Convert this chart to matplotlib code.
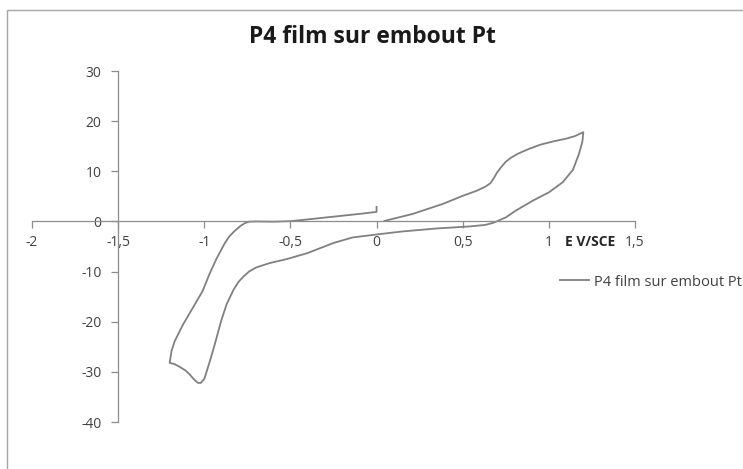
import matplotlib
matplotlib.use("Agg")
import matplotlib.pyplot as plt
from matplotlib.ticker import FuncFormatter
from matplotlib.patches import Rectangle

# Cyclic voltammogram of the P4 film on a Pt tip
E = [0.0, 0.0, -0.1, -0.25, -0.4, -0.5, -0.6, -0.7, -0.74, -0.765, -0.79,
     -0.824, -0.855, -0.882, -0.93, -0.97, -1.01, -1.066, -1.124, -1.172,
     -1.19, -1.201, -1.17, -1.143, -1.11, -1.085, -1.06, -1.037, -1.02,
     -1.0, -0.985, -0.96, -0.94, -0.90, -0.87, -0.83, -0.80, -0.77, -0.74,
     -0.70, -0.62, -0.52, -0.40, -0.25, -0.14, 0.0, 0.15, 0.35, 0.54, 0.63,
     0.675, 0.71, 0.75, 0.81, 0.91, 1.0, 1.08, 1.14, 1.175, 1.195, 1.2,
     1.15, 1.1, 1.03, 0.95, 0.88, 0.82, 0.78, 0.75, 0.725, 0.70, 0.68,
     0.66, 0.63, 0.58, 0.5, 0.385, 0.21, 0.046]
I = [2.9, 1.9, 1.5, 0.95, 0.4, 0.05, -0.05, 0.0, -0.05, -0.35, -0.9,
     -1.9, -3.0, -4.4, -7.5, -10.5, -13.9, -17.2, -20.6, -23.9,
     -25.8, -28.2, -28.5, -29.0, -29.7, -30.5, -31.5, -32.2, -32.2,
     -31.4, -29.8, -27.0, -24.6, -19.6, -16.5, -13.6, -12.0, -10.9, -10.0,
     -9.2, -8.3, -7.5, -6.3, -4.3, -3.2, -2.6, -2.0, -1.4, -1.0, -0.7,
     -0.3, 0.2, 0.8, 2.2, 4.2, 5.8, 7.8, 10.3, 13.5, 16.0, 17.8,
     17.0, 16.5, 16.0, 15.3, 14.4, 13.5, 12.7, 11.9, 10.9, 9.8, 8.6,
     7.6, 6.9, 6.1, 5.1, 3.5, 1.5, 0.1]

x_ticks = [-2, -1.5, -1, -0.5, 0, 0.5, 1, 1.5]
y_ticks = [-40, -30, -20, -10, 0, 10, 20, 30]

title = "P4 film sur embout Pt"
series_name = "P4 film sur embout Pt"
x_label = "E V/SCE"

plt.rcParams["font.family"] = ["Open Sans", "DejaVu Sans"]

fig = plt.figure(figsize=(7.43, 4.69), dpi=100)
ax = fig.add_axes([32 / 743, 47 / 469, 603 / 743, 351 / 469])

line, = ax.plot(E, I, color="#808080", lw=1.3, label=series_name,
                solid_joinstyle="round")

ax.set_xlim(-2, 1.5)
ax.set_ylim(-40, 30)
ax.set_xticks(x_ticks)
ax.set_yticks(y_ticks)

comma = FuncFormatter(lambda v, p: ("%g" % v).replace(".", ","))
ax.xaxis.set_major_formatter(comma)
ax.yaxis.set_major_formatter(comma)

axis_grey = "#8c8c8c"
for side in ("top", "right"):
    ax.spines[side].set_visible(False)
ax.spines["left"].set_position(("data", -1.5))
ax.spines["bottom"].set_position(("data", 0))
for side in ("left", "bottom"):
    ax.spines[side].set_color(axis_grey)
    ax.spines[side].set_linewidth(0.9)

ax.tick_params(axis="both", direction="out", length=5, width=0.9,
               color=axis_grey, labelsize=10, labelcolor="#404040")
ax.tick_params(axis="x", pad=5)
ax.tick_params(axis="y", pad=7)

ax.text(1.24, -4.2, x_label, fontsize=10, fontweight="bold", color="#262626",
        ha="center", va="center")

fig.text(372 / 743, 1 - 37 / 469, title, fontsize=16.5, fontweight="bold",
         color="#1a1a1a", ha="center", va="center")

fig.legend(handles=[line], loc="center left",
           bbox_to_anchor=(560 / 743, 1 - 282 / 469), frameon=False,
           fontsize=10.5, handlelength=2.0, handletextpad=0.3,
           borderaxespad=0, borderpad=0, labelcolor="#404040")

# chart area border
fig.add_artist(Rectangle((7 / 743, -0.5), 2.0, 1.5 - 10 / 469,
                         transform=fig.transFigure, fill=False,
                         edgecolor="#a6a6a6", lw=1.0, clip_on=False))

fig.savefig("out.png", dpi=100)
